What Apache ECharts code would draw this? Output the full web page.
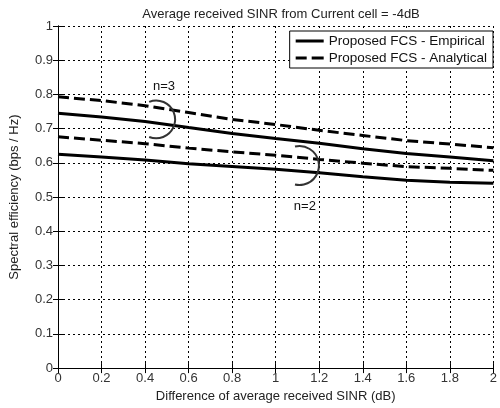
<!DOCTYPE html>
<html><head><meta charset="utf-8">
<script src="https://cdn.jsdelivr.net/npm/echarts@6/dist/echarts.min.js"></script>
<style>html,body{margin:0;padding:0;background:#fff}#c{width:500px;height:408px}</style>
</head><body><div id="c"></div>
<script>
const titleText = 'Average received SINR from Current cell = -4dB';
const xName = 'Difference of average received SINR (dB)';
const yName = 'Spectral efficiency (bps / Hz)';
const xValues = [0, 0.2, 0.4, 0.6, 0.8, 1.0, 1.2, 1.4, 1.6, 1.8, 2.0];
const empN3 = [0.745, 0.734, 0.721, 0.703, 0.686, 0.671, 0.657, 0.641, 0.627, 0.617, 0.606];
const anaN3 = [0.793, 0.782, 0.767, 0.747, 0.727, 0.712, 0.695, 0.680, 0.665, 0.655, 0.644];
const anaN2 = [0.676, 0.666, 0.656, 0.643, 0.632, 0.622, 0.610, 0.599, 0.589, 0.584, 0.578];
const empN2 = [0.625, 0.617, 0.608, 0.597, 0.589, 0.581, 0.571, 0.559, 0.549, 0.543, 0.540];
const legendNames = ['Proposed FCS - Empirical', 'Proposed FCS - Analytical'];
const annotations = [
  {label: 'n=3', textX: 0.487, textY: 0.824, arcX: 0.451, arcY: 0.727, r: 18.9, ang: 1.95},
  {label: 'n=2', textX: 1.134, textY: 0.474, arcX: 1.109, arcY: 0.592, r: 19.5, ang: 1.80}
];

const font = 'Liberation Sans, Arial, sans-serif';
const fs = 13;
const toPairs = arr => xValues.map((x, i) => [x, arr[i]]);
const chart = echarts.init(document.getElementById('c'));
const dash = [11, 5];
function ser(name, arr, dashed) {
  return {
    name, type: 'line', data: toPairs(arr), symbol: 'none', smooth: false,
    lineStyle: {color: '#000', width: 3, type: dashed ? dash : 'solid', cap: 'butt'},
    itemStyle: {color: '#000'}, z: 5
  };
}
const solidIcon = 'path://M0,0H0.01V12H0Z M0,4.5H28V7.5H0Z';
const dashIcon = 'path://M0,0H0.01V12H0Z M0,4.5H11V7.5H0Z M16,4.5H28V7.5H16Z';
const gridStyle = {show: true, lineStyle: {color: '#000', type: [2, 3], width: 1}};
chart.setOption({
  animation: false,
  backgroundColor: '#fff',
  title: {text: titleText, left: 276, top: 3, textAlign: 'center',
    textStyle: {fontFamily: font, fontSize: fs, fontWeight: 'normal', color: '#222'}},
  grid: {left: 58, right: 3, top: 26, bottom: 36},
  legend: {
    data: [
      {name: legendNames[0], icon: solidIcon},
      {name: legendNames[1], icon: dashIcon}
    ],
    orient: 'vertical', right: 7, top: 31,
    itemWidth: 28, itemHeight: 12, itemGap: 3,
    backgroundColor: '#fff', borderColor: '#000', borderWidth: 1,
    padding: [3, 6, 3, 6],
    textStyle: {fontFamily: font, fontSize: 13.5, color: '#111'}
  },
  xAxis: [{
    type: 'value', min: 0, max: 2, interval: 0.2,
    name: xName, nameLocation: 'middle', nameGap: 21,
    nameTextStyle: {fontFamily: font, fontSize: fs, color: '#222'},
    axisLine: {onZero: false, lineStyle: {color: '#000', width: 1}},
    axisTick: {inside: true, length: 5, lineStyle: {color: '#000'}},
    axisLabel: {fontFamily: font, fontSize: fs, color: '#333', margin: 4},
    splitLine: gridStyle
  }, {
    type: 'value', min: 0, max: 2, interval: 0.2, position: 'top',
    axisLine: {show: true, lineStyle: {color: '#000'}},
    axisTick: {inside: true, length: 5, lineStyle: {color: '#000'}},
    axisLabel: {show: false}, splitLine: {show: false}
  }],
  yAxis: [{
    type: 'value', min: 0, max: 1, interval: 0.1,
    name: yName, nameLocation: 'middle', nameGap: 37,
    nameTextStyle: {fontFamily: font, fontSize: fs, color: '#222'},
    axisLine: {show: true, onZero: false, lineStyle: {color: '#000', width: 1}},
    axisTick: {show: true, inside: true, length: 5, lineStyle: {color: '#000'}},
    axisLabel: {fontFamily: font, fontSize: fs, color: '#333', margin: 5},
    splitLine: gridStyle
  }, {
    type: 'value', min: 0, max: 1, interval: 0.1, position: 'right',
    axisLine: {show: true, lineStyle: {color: '#000'}},
    axisTick: {show: true, inside: true, length: 5, lineStyle: {color: '#000'}},
    axisLabel: {show: false}, splitLine: {show: false}
  }],
  series: [
    ser(legendNames[0], empN3, false),
    ser(legendNames[1], anaN3, true),
    ser(legendNames[1], anaN2, true),
    ser(legendNames[0], empN2, false)
  ]
});

const graphics = [];
annotations.forEach(a => {
  const t = chart.convertToPixel({gridIndex: 0}, [a.textX, a.textY]);
  const c = chart.convertToPixel({gridIndex: 0}, [a.arcX, a.arcY]);
  graphics.push({type: 'arc', z: 10, shape: {cx: c[0], cy: c[1], r: a.r, startAngle: -a.ang, endAngle: a.ang, clockwise: true},
    style: {stroke: '#333', fill: null, lineWidth: 2}});
  graphics.push({type: 'text', z: 10, x: t[0], y: t[1],
    style: {text: a.label, fontFamily: font, fontSize: fs, fill: '#111', align: 'center', verticalAlign: 'middle'}});
});
chart.setOption({graphic: graphics});
</script></body></html>
